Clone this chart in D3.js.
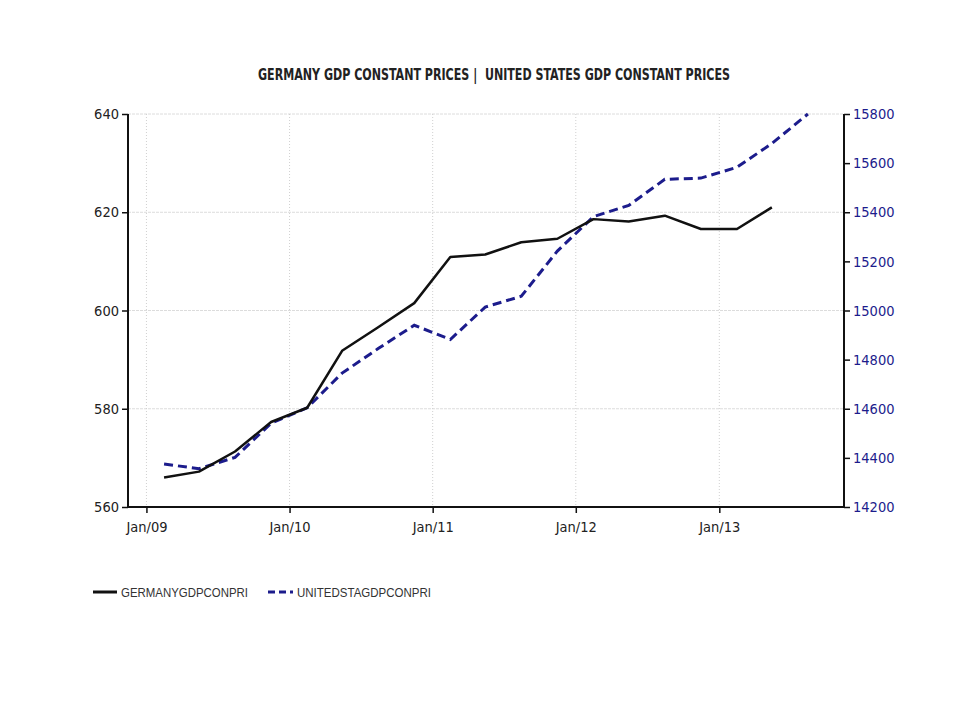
<!DOCTYPE html>
<html><head><meta charset="utf-8">
<script src="https://cdn.jsdelivr.net/npm/d3@7"></script>
<style>body{margin:0;background:#fff}svg{display:block}</style>
</head><body>
<svg id="c" width="960" height="720"></svg>
<script>
const dates = ["2009-02-15","2009-05-15","2009-08-15","2009-11-15","2010-02-15","2010-05-15","2010-08-15","2010-11-15",
"2011-02-15","2011-05-15","2011-08-15","2011-11-15","2012-02-15","2012-05-15","2012-08-15","2012-11-15",
"2013-02-15","2013-05-15","2013-08-15"];
const germany = [566.0,567.2,571.3,577.3,580.2,591.8,596.6,601.5,610.9,611.4,613.9,614.6,618.6,618.1,619.3,616.6,616.6,621.0];
const unitedStates = [14375,14356,14402,14541,14604,14745,14845,14940,14882,15014,15058,15242,15382,15428,15534,15539,15583,15680,15800];
const leftTicks = [560,580,600,620,640];
const rightTicks = [14200,14400,14600,14800,15000,15200,15400,15600,15800];
const xTickDates = ["2009-01-01","2010-01-01","2011-01-01","2012-01-01","2013-01-01"];
const seriesNames = ["GERMANYGDPCONPRI","UNITEDSTAGDPCONPRI"];
const title = "GERMANY GDP CONSTANT PRICES |  UNITED STATES GDP CONSTANT PRICES";

const parse = d3.timeParse("%Y-%m-%d");
const svg = d3.select("#c");
const L = 128, R = 844, T = 114, B = 507;
const x = d3.scaleTime().domain([parse("2008-11-15"), parse("2013-11-15")]).range([L, R]);
const yL = d3.scaleLinear().domain([560,640]).range([B, T]);
const yR = d3.scaleLinear().domain([14200,15800]).range([B, T]);
const navy = "#1c1c8c";
const font = "'DejaVu Sans Condensed', 'DejaVu Sans', sans-serif";

// grid
svg.append("g").selectAll("line").data(leftTicks.slice(1)).join("line")
  .attr("x1", L).attr("x2", R).attr("y1", d => yL(d)).attr("y2", d => yL(d))
  .attr("stroke", "#dcdcdc").attr("stroke-width", 1).attr("stroke-dasharray", "3,1");
svg.append("g").selectAll("line").data(xTickDates).join("line")
  .attr("x1", d => x(parse(d))).attr("x2", d => x(parse(d))).attr("y1", T).attr("y2", B)
  .attr("stroke", "#d0d0d0").attr("stroke-width", 1).attr("stroke-dasharray", "1,2");

// axes
const ax = svg.append("g").attr("transform", `translate(0,${B})`)
  .call(d3.axisBottom(x).tickValues(xTickDates.map(parse)).tickFormat(d3.timeFormat("Jan/%y")).tickSize(6).tickPadding(9));
const al = svg.append("g").attr("transform", `translate(${L},0)`)
  .call(d3.axisLeft(yL).tickValues(leftTicks).tickFormat(d3.format("d")).tickSize(6).tickPadding(3));
const ar = svg.append("g").attr("transform", `translate(${R},0)`)
  .call(d3.axisRight(yR).tickValues(rightTicks).tickFormat(d3.format("d")).tickSize(6).tickPadding(3));
[ax, al, ar].forEach(g => {
  g.select(".domain").attr("stroke", "#111").attr("stroke-width", 2);
  g.selectAll(".tick line").attr("stroke", "#111").attr("stroke-width", 1.5);
  g.selectAll("text").attr("font-family", font).attr("font-size", 14.5).attr("fill", "#222");
});
ar.selectAll("text").attr("fill", navy);
ax.select(".domain").attr("d", `M${L},0H${R}`);
al.select(".domain").attr("d", `M0,${T}V${B}`);
ar.select(".domain").attr("d", `M0,${T}V${B}`);

// lines
const gData = germany.map((v, i) => ({d: parse(dates[i]), v}));
const uData = unitedStates.map((v, i) => ({d: parse(dates[i]), v}));
svg.append("path").datum(uData)
  .attr("d", d3.line().x(p => x(p.d)).y(p => yR(p.v)))
  .attr("fill", "none").attr("stroke", navy).attr("stroke-width", 3).attr("stroke-dasharray", "9,5");
svg.append("path").datum(gData)
  .attr("d", d3.line().x(p => x(p.d)).y(p => yL(p.v)))
  .attr("fill", "none").attr("stroke", "#111").attr("stroke-width", 2.5).attr("stroke-linejoin", "round");

// title
svg.append("text").attr("x", 494).attr("y", 80).attr("text-anchor", "middle")
  .style("white-space", "pre")
  .attr("font-family", font).attr("font-weight", "bold").attr("font-size", 15).attr("fill", "#222")
  .attr("textLength", 472).attr("lengthAdjust", "spacingAndGlyphs").text(title);

// legend
const lg = svg.append("g");
lg.append("line").attr("x1", 93).attr("x2", 117).attr("y1", 592).attr("y2", 592).attr("stroke", "#111").attr("stroke-width", 3);
lg.append("text").attr("x", 121).attr("y", 597).attr("font-family", "'Liberation Sans', Arial, sans-serif").attr("font-size", 13)
  .attr("fill", "#333").attr("textLength", 127).attr("lengthAdjust", "spacingAndGlyphs").text(seriesNames[0]);
lg.append("line").attr("x1", 268).attr("x2", 293).attr("y1", 592).attr("y2", 592).attr("stroke", navy).attr("stroke-width", 3).attr("stroke-dasharray", "7,4");
lg.append("text").attr("x", 297).attr("y", 597).attr("font-family", "'Liberation Sans', Arial, sans-serif").attr("font-size", 13)
  .attr("fill", "#333").attr("textLength", 134).attr("lengthAdjust", "spacingAndGlyphs").text(seriesNames[1]);
</script>
</body></html>
